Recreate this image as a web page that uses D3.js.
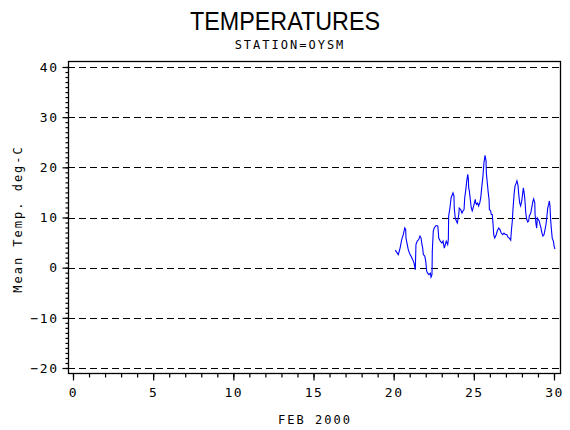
<!DOCTYPE html>
<html>
<head>
<meta charset="utf-8">
<script src="https://cdn.jsdelivr.net/npm/d3@7"></script>
<style>
  body { margin: 0; background: #fff; }
  text { fill: #000; }
</style>
</head>
<body>
<svg width="570" height="430"></svg>
<script>
  // Day of month (fractional) and mean temperature
  const days = [20.10, 20.29, 20.40, 20.50, 20.60, 20.69, 20.75, 20.77, 20.85, 20.91,
      21.02, 21.08, 21.19, 21.27, 21.35, 21.39, 21.47, 21.56, 21.64, 21.71,
      21.75, 21.81, 21.85, 21.94, 22.00, 22.06, 22.12, 22.20, 22.29, 22.33,
      22.39, 22.41, 22.47, 22.53, 22.64, 22.75, 22.78, 22.81, 22.91, 23.01,
      23.08, 23.16, 23.22, 23.28, 23.37, 23.41, 23.43, 23.51, 23.58, 23.70,
      23.76, 23.78, 23.84, 23.91, 23.97, 24.01, 24.06, 24.09, 24.18, 24.26,
      24.32, 24.39, 24.43, 24.49, 24.56, 24.62, 24.66, 24.68, 24.72, 24.78,
      24.84, 24.90, 24.99, 25.09, 25.12, 25.18, 25.24, 25.30, 25.37, 25.43,
      25.49, 25.57, 25.63, 25.70, 25.76, 25.78, 25.84, 25.90, 25.95, 25.97,
      26.05, 26.09, 26.15, 26.20, 26.24, 26.30, 26.38, 26.46, 26.55, 26.63,
      26.71, 26.80, 26.88, 26.96, 27.05, 27.13, 27.21, 27.30, 27.34, 27.40,
      27.44, 27.51, 27.57, 27.65, 27.69, 27.74, 27.76, 27.80, 27.86, 27.92,
      27.99, 28.05, 28.09, 28.15, 28.19, 28.24, 28.30, 28.36, 28.42, 28.46,
      28.55, 28.61, 28.69, 28.73, 28.80, 28.82, 28.88, 28.92, 28.96, 29.02,
      29.08, 29.13, 29.19, 29.25, 29.31, 29.38, 29.44, 29.50, 29.56, 29.61,
      29.67, 29.71, 29.75, 29.79, 29.83, 29.89, 29.96, 30.02, 30.06];
  const temps = [3.5, 2.6, 3.9, 5.6, 6.6, 7.9, 7.6, 5.9, 4.6, 3.6,
      2.6, 2.3, 1.6, 0.9, -0.4, 4.6, 5.3, 5.6, 6.3, 5.9,
      4.9, 3.9, 2.6, 2.3, 1.3, -0.7, -1.1, -1.4, -1.1, -1.9,
      -1.4, 3.3, 7.3, 7.9, 8.4, 8.3, 7.3, 5.9, 5.3, 4.9,
      5.3, 3.9, 4.6, 5.3, 4.6, 5.6, 10.3, 11.9, 13.9, 14.9,
      14.3, 11.9, 9.9, 9.3, 8.9, 9.6, 10.6, 11.9, 11.6, 10.9,
      11.3, 11.6, 13.9, 15.3, 17.3, 18.6, 17.6, 15.9, 15.3, 13.6,
      11.9, 11.3, 12.3, 13.6, 12.9, 12.6, 12.9, 12.3, 12.9, 13.9,
      15.9, 18.3, 20.9, 22.4, 21.3, 18.9, 16.9, 14.9, 13.6, 11.6,
      11.3, 10.6, 10.6, 8.6, 6.6, 5.9, 6.4, 7.3, 7.9, 7.6,
      6.9, 6.6, 6.9, 6.6, 6.6, 6.1, 5.9, 5.5, 7.3, 9.3,
      11.6, 14.6, 16.3, 16.9, 17.3, 16.6, 16.3, 14.6, 12.9, 12.3,
      13.3, 14.9, 15.9, 14.6, 13.3, 10.9, 9.6, 9.1, 9.3, 10.3,
      10.9, 11.9, 13.3, 13.7, 12.9, 10.6, 8.6, 7.9, 9.9, 9.6,
      9.3, 8.6, 7.9, 6.9, 6.3, 6.6, 7.6, 8.6, 10.3, 11.9,
      12.6, 13.3, 12.3, 9.6, 7.9, 5.9, 5.3, 4.1, 3.7];

  const yTicks = [-20, -10, 0, 10, 20, 30, 40];
  const xTicks = [0, 5, 10, 15, 20, 25, 30];

  const svg = d3.select("svg");

  // frame
  const fLeft = 68, fRight = 560, fTop = 61, fBottom = 373;

  const x = d3.scaleLinear().domain([0, 30]).range([73, 554]);
  const y = d3.scaleLinear().domain([-20, 40]).range([368, 67]);

  const tickFont = "'DejaVu Sans Mono', monospace";

  // dashed reference lines
  svg.append("g")
      .selectAll("line")
      .data(yTicks)
      .join("line")
      .attr("x1", fLeft)
      .attr("x2", fRight)
      .attr("y1", d => Math.round(y(d)) + 0.5)
      .attr("y2", d => Math.round(y(d)) + 0.5)
      .attr("stroke", "#000")
      .attr("stroke-width", 1.2)
      .attr("stroke-dasharray", "7,4");

  svg.append("rect")
      .attr("x", fLeft + 0.5)
      .attr("y", fTop + 0.5)
      .attr("width", fRight - fLeft)
      .attr("height", fBottom - fTop)
      .attr("fill", "none")
      .attr("stroke", "#000")
      .attr("stroke-width", 1.3);

  // y axis: minor then major
  svg.append("g")
      .attr("transform", `translate(${fLeft + 0.5},0)`)
      .call(d3.axisLeft(y).tickValues(d3.range(-20, 41, 1)).tickSize(3).tickFormat(""))
      .call(g => g.select(".domain").remove());

  svg.append("g")
      .attr("transform", `translate(${fLeft + 0.5},0)`)
      .call(d3.axisLeft(y).tickValues(yTicks).tickSize(6).tickPadding(4))
      .call(g => g.select(".domain").remove())
      .call(g => g.selectAll("text")
          .attr("font-family", tickFont)
          .attr("font-size", 13)
          .attr("letter-spacing", 1.5));

  // x axis
  svg.append("g")
      .attr("transform", `translate(0,${fBottom + 0.5})`)
      .call(d3.axisBottom(x).tickValues(d3.range(0, 31, 1)).tickSize(4).tickFormat(""))
      .call(g => g.select(".domain").remove());

  svg.append("g")
      .attr("transform", `translate(0,${fBottom + 0.5})`)
      .call(d3.axisBottom(x).tickValues(xTicks).tickSize(7).tickPadding(7))
      .call(g => g.select(".domain").remove())
      .call(g => g.selectAll("text")
          .attr("font-family", tickFont)
          .attr("font-size", 13)
          .attr("letter-spacing", 1.5));

  svg.selectAll(".tick line").attr("stroke-width", 1.2);

  // the series
  const line = d3.line()
      .x((d, i) => x(days[i]))
      .y(d => y(d));

  svg.append("path")
      .datum(temps)
      .attr("d", line)
      .attr("fill", "none")
      .attr("stroke", "#0000ff")
      .attr("stroke-width", 1.1);

  // titles
  svg.append("text")
      .attr("x", 285)
      .attr("y", 30)
      .attr("text-anchor", "middle")
      .attr("font-family", "'Liberation Sans Narrow', 'Liberation Sans', sans-serif")
      .attr("font-size", 25)
      .attr("textLength", 190)
      .attr("lengthAdjust", "spacingAndGlyphs")
      .text("TEMPERATURES");

  svg.append("text")
      .attr("x", 290)
      .attr("y", 49)
      .attr("text-anchor", "middle")
      .attr("font-family", tickFont)
      .attr("font-size", 12)
      .attr("letter-spacing", 2)
      .text("STATION=OYSM");

  svg.append("text")
      .attr("transform", "translate(22,219) rotate(-90)")
      .attr("text-anchor", "middle")
      .attr("font-family", tickFont)
      .attr("font-size", 12)
      .attr("letter-spacing", 2)
      .text("Mean Temp. deg-C");

  svg.append("text")
      .attr("x", 315)
      .attr("y", 424)
      .attr("text-anchor", "middle")
      .attr("font-family", tickFont)
      .attr("font-size", 12)
      .attr("letter-spacing", 2)
      .text("FEB 2000");
</script>
</body>
</html>
